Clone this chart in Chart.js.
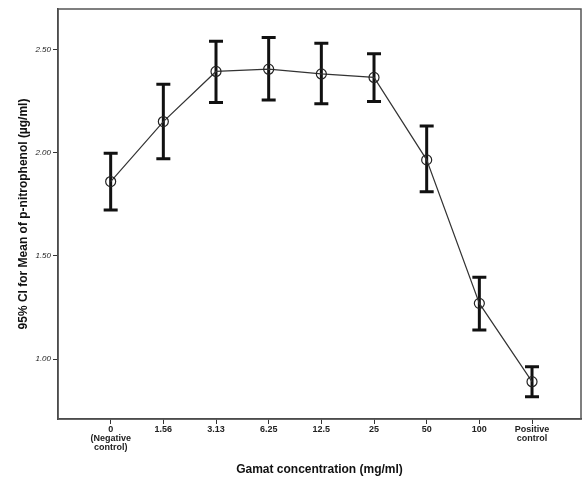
<!DOCTYPE html>
<html><head><meta charset="utf-8">
<script src="https://cdn.jsdelivr.net/npm/chart.js@4/dist/chart.umd.min.js"></script>
<style>html,body{margin:0;padding:0;background:#fff}#wrap{width:584px;height:483px}</style>
</head><body><div id="wrap"><canvas id="c" width="584" height="483"></canvas></div>
<script>
const tickLabels = [['0','(Negative','control)'],['1.56'],['3.13'],['6.25'],['12.5'],['25'],['50'],['100'],['Positive','control']];
const means = [1.861,2.152,2.395,2.406,2.383,2.366,1.966,1.270,0.890];
const upper = [1.998,2.333,2.542,2.560,2.532,2.481,2.131,1.397,0.963];
const lower = [1.723,1.971,2.244,2.257,2.238,2.249,1.812,1.141,0.817];
const yTicks = [1.0,1.5,2.0,2.5];
const xTitle = 'Gamat concentration (mg/ml)';
const yTitle = '95% CI for Mean of p-nitrophenol (\u00b5g/ml)';

const errorBars = {
  id:'errorBars',
  beforeDatasetsDraw(chart){
    const {ctx, scales:{x,y}} = chart;
    ctx.save();
    ctx.strokeStyle='#111';
    ctx.lineWidth=3;
    ctx.lineCap='butt';
    means.forEach((m,i)=>{
      const px=x.getPixelForValue(i);
      const yu=y.getPixelForValue(upper[i]);
      const yl=y.getPixelForValue(lower[i]);
      ctx.beginPath();
      ctx.moveTo(px,yu);ctx.lineTo(px,yl);
      ctx.moveTo(px-7,yu);ctx.lineTo(px+7,yu);
      ctx.moveTo(px-7,yl);ctx.lineTo(px+7,yl);
      ctx.stroke();
    });
    ctx.restore();
  },
  afterDraw(chart){
    const {ctx, chartArea:a} = chart;
    ctx.save();
    ctx.strokeStyle='#555';
    ctx.lineWidth=1.5;
    ctx.strokeRect(a.left,a.top,a.right-a.left,a.bottom-a.top);
    ctx.restore();
  }
};
const zeroPad = () => ({left:0,top:0,right:0,bottom:0});

new Chart(document.getElementById('c'),{
  type:'line',
  data:{datasets:[{
    data:means.map((m,i)=>({x:i,y:m})),
    borderColor:'#333',borderWidth:1.2,
    pointRadius:5,pointBorderWidth:1.2,pointBorderColor:'#222',pointBackgroundColor:'rgba(0,0,0,0)',
    tension:0
  }]},
  options:{
    responsive:false,animation:false,
    layout:{autoPadding:false,padding:{left:0,right:3,top:9,bottom:0}},
    plugins:{legend:{display:false},tooltip:{enabled:false}},
    scales:{
      x:{type:'linear',min:-1,max:8.93,
        afterBuildTicks(s){s.ticks=tickLabels.map((t,i)=>({value:i}));},
        afterFit(s){s.height=64;s.paddingRight=0;s.paddingLeft=0;s.getPadding=zeroPad;},
        ticks:{autoSkip:false,maxRotation:0,padding:1,color:'#222',font:{family:'Liberation Sans Narrow, Arial',size:9,weight:'bold',lineHeight:1.0},
          callback:(v)=>tickLabels[v]},
        grid:{drawOnChartArea:false,drawTicks:true,tickLength:5,color:'#333'},
        border:{display:true,color:'#333',width:1.5},
        title:{display:true,text:xTitle,color:'#111',font:{family:'Liberation Sans, Arial',size:12,weight:'bold'},padding:{top:0,bottom:6}}
      },
      y:{type:'linear',min:0.709,max:2.698,
        afterBuildTicks(s){s.ticks=yTicks.map(v=>({value:v}));},
        afterFit(s){s.width=58;s.getPadding=zeroPad;},
        ticks:{padding:2,color:'#222',font:{family:'Liberation Sans Narrow, Arial',size:8,style:'italic'},callback:(v)=>v.toFixed(2)},
        grid:{drawOnChartArea:false,drawTicks:true,tickLength:5,color:'#333'},
        border:{display:true,color:'#333',width:1.5},
        title:{display:true,text:yTitle,color:'#111',font:{family:'Liberation Sans, Arial',size:12,weight:'bold'},padding:{top:16,bottom:0}}
      }
    }
  },
  plugins:[errorBars]
});
</script>
</body></html>
